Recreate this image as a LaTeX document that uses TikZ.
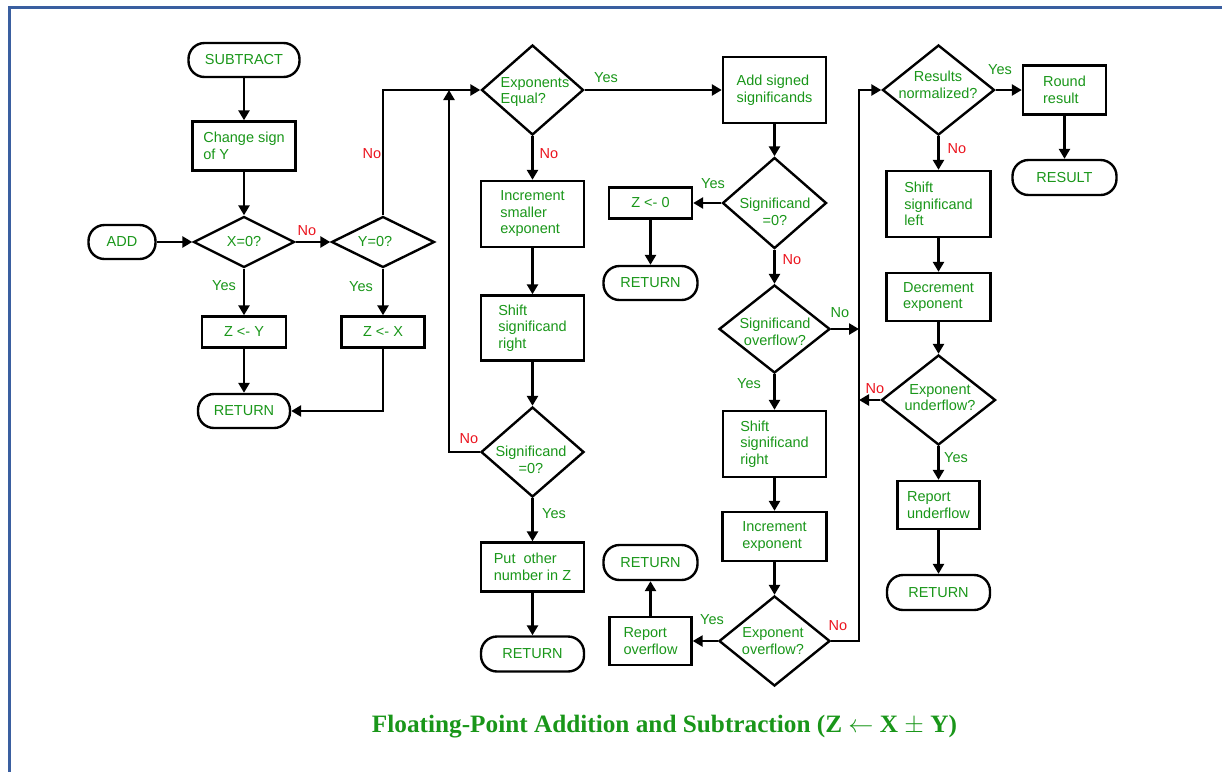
\documentclass[tikz,border=0pt]{standalone}
\usepackage{graphicx}
\usepackage{fontspec}
\setmainfont{Liberation Sans}
\newfontfamily\titlefont{Liberation Serif}
\usetikzlibrary{arrows.meta,shapes.geometric}
\definecolor{tgreen}{RGB}{25,150,25}
\definecolor{tred}{RGB}{235,20,30}
\definecolor{frameblue}{RGB}{58,95,160}
\begin{document}
\begin{tikzpicture}[x=1pt,y=-1pt,
  every node/.style={font=\fontsize{14.5}{16.5}\selectfont, text=tgreen},
  box/.style={draw=black, line width=2.4pt, rectangle, inner sep=0pt, align=left},
  term/.style={draw=black, line width=2.4pt, rectangle, rounded corners=16pt, inner sep=0pt},
  dia/.style={draw=black, line width=2.4pt, diamond, inner sep=0pt},
  dtext/.style={align=center, inner sep=0pt},
  conn/.style={draw=black, line width=2.5pt, -{Triangle[length=10pt,width=11pt]}},
  yes/.style={text=tgreen, inner sep=0pt},
  no/.style={text=tred, inner sep=0pt},
]
\useasboundingbox (0,0) rectangle (1222,772);
\draw[frameblue, line width=3pt] (1222,7.5) -- (9.5,7.5) -- (9.5,772);

% column 1
\node[term, minimum width=111pt, minimum height=34pt] (sub) at (244,60) {SUBTRACT};
\node[box, minimum width=103pt, minimum height=49pt] (chg) at (244,146) {Change sign\\of Y};
\node[dia, minimum width=101pt, minimum height=51pt] (x0) at (244,242) {};
\node[dtext] (x0t) at (244,242) {X=0?};
\node[term, minimum width=67pt, minimum height=34pt] (add) at (122,242) {ADD};
\node[dia, minimum width=103pt, minimum height=51pt] (y0) at (383,242) {};
\node[dtext] (y0t) at (375,242) {Y=0?};
\node[box, minimum width=84pt, minimum height=31pt] (zy) at (244,332) {Z <- Y};
\node[box, minimum width=83pt, minimum height=31pt] (zx) at (383,332) {Z <- X};
\node[term, minimum width=92pt, minimum height=34pt] (ret1) at (244,411) {RETURN};

% column 2
\node[dia, minimum width=102pt, minimum height=90pt] (expeq) at (532.5,90) {};
\node[dtext, align=left] (expeqt) at (535,92) {Exponents\\Equal?};
\node[box, minimum width=103pt, minimum height=66pt] (incsm) at (532.5,214) {Increment\\smaller\\exponent};
\node[box, minimum width=103pt, minimum height=65pt] (shr1) at (532.5,328) {Shift\\significand\\right};
\node[dia, minimum width=103pt, minimum height=90pt] (sig0a) at (532.5,452) {};
\node[dtext] (sig0at) at (531,460) {Significand\\=0?};
\node[box, minimum width=103pt, minimum height=49pt] (put) at (532.5,567) {Put\ \ other\\number in Z};
\node[term, minimum width=103pt, minimum height=35pt] (ret2) at (532.5,654) {RETURN};

% column 3
\node[box, minimum width=103pt, minimum height=66pt] (addsig) at (774.5,90) {Add signed\\significands};
\node[dia, minimum width=104pt, minimum height=91pt] (sig0b) at (774.5,203) {};
\node[dtext] (sig0bt) at (775,212) {Significand\\=0?};
\node[box, minimum width=83pt, minimum height=31pt] (z0) at (650.5,203) {Z <- 0};
\node[term, minimum width=94pt, minimum height=34pt] (ret3) at (650.5,283) {RETURN};
\node[dia, minimum width=111pt, minimum height=88pt] (sigov) at (774.5,329) {};
\node[dtext] (sigovt) at (775,332) {Significand\\overflow?};
\node[box, minimum width=103pt, minimum height=66pt] (shr2) at (774.5,444) {Shift\\significand\\right};
\node[box, minimum width=104pt, minimum height=49pt] (incexp) at (774.5,536.5) {Increment\\exponent};
\node[dia, minimum width=111pt, minimum height=90pt] (expov) at (774.5,641) {};
\node[dtext] (expovt) at (773,641) {Exponent\\overflow?};
\node[box, minimum width=82pt, minimum height=48pt] (repov) at (650.5,641) {Report\\overflow};
\node[term, minimum width=94pt, minimum height=35pt] (ret4) at (650.5,562.5) {RETURN};

% column 4
\node[dia, minimum width=112pt, minimum height=90pt] (resnorm) at (938.5,90) {};
\node[dtext] (resnormt) at (938,85) {Results\\normalized?};
\node[box, minimum width=83pt, minimum height=49pt] (round) at (1064.5,90) {Round\\result};
\node[term, minimum width=104pt, minimum height=35pt] (result) at (1064.5,177.5) {RESULT};
\node[box, minimum width=104pt, minimum height=66pt] (shl) at (938.5,204) {Shift\\significand\\left};
\node[box, minimum width=104pt, minimum height=48pt] (decexp) at (938.5,297) {Decrement\\exponent};
\node[dia, minimum width=114pt, minimum height=90pt] (expun) at (938.5,400) {};
\node[dtext] (expunt) at (940,397.5) {Exponent\\underflow?};
\node[box, minimum width=82pt, minimum height=48pt] (repun) at (938.5,505) {Report\\underflow};
\node[term, minimum width=103pt, minimum height=35pt] (ret5) at (938.5,592.5) {RETURN};

\coordinate (j1) at (449,90);
\coordinate (j2) at (859,329);
\coordinate (c4) at (859,90);
\coordinate (j3) at (859,400);

% connectors
\draw[conn] (sub) -- (chg);
\draw[conn] (chg) -- (x0);
\draw[conn] (add) -- (x0);
\draw[conn] (x0) -- (y0);
\draw[conn] (x0) -- (zy);
\draw[conn] (y0) -- (zx);
\draw[conn] (zy) -- (ret1);
\draw[conn] (zx.south) |- (ret1.east);
\draw[conn] (y0.north) |- (expeq.west);
\draw[conn] (sig0a.west) -| (j1);
\draw[conn] (expeq) -- (incsm);
\draw[conn] (incsm) -- (shr1);
\draw[conn] (shr1) -- (sig0a);
\draw[conn] (sig0a) -- (put);
\draw[conn] (put) -- (ret2);
\draw[conn] (expeq) -- (addsig);
\draw[conn] (addsig) -- (sig0b);
\draw[conn] (sig0b) -- (z0);
\draw[conn] (z0) -- (ret3);
\draw[conn] (sig0b) -- (sigov);
\draw[conn] (sigov.east) -- (j2);
\draw[conn] (sigov) -- (shr2);
\draw[conn] (shr2) -- (incexp);
\draw[conn] (incexp) -- (expov);
\draw[conn] (expov) -- (repov);
\draw[conn] (repov) -- (ret4);
\draw[conn] (expov.east) -| (c4) -- (resnorm.west);
\draw[conn] (resnorm) -- (round);
\draw[conn] (round) -- (result);
\draw[conn] (resnorm) -- (shl);
\draw[conn] (shl) -- (decexp);
\draw[conn] (decexp) -- (expun);
\draw[conn] (expun.west) -- (j3);
\draw[conn] (expun) -- (repun);
\draw[conn] (repun) -- (ret5);

% labels
\node[no] (l1) at (307,231) {No};
\node[yes] (l2) at (224,286) {Yes};
\node[yes] (l3) at (361,287) {Yes};
\node[no] (l4) at (372,154) {No};
\node[no] (l5) at (469,439) {No};
\node[no] (l6) at (549,154) {No};
\node[yes] (l7) at (606,78) {Yes};
\node[yes] (l8) at (713,184) {Yes};
\node[no] (l9) at (792,260) {No};
\node[yes] (l10) at (840,313) {No};
\node[yes] (l11) at (749,384) {Yes};
\node[yes] (l12) at (554,514) {Yes};
\node[yes] (l13) at (712,620) {Yes};
\node[no] (l14) at (838,626) {No};
\node[yes] (l15) at (1000,70) {Yes};
\node[no] (l16) at (957,149) {No};
\node[no] (l17) at (875,389) {No};
\node[yes] (l18) at (956,458) {Yes};

% title
\node[text=tgreen, inner sep=0pt, anchor=base] (title) at (664.5,732)
  {\titlefont\fontsize{25}{30}\selectfont\resizebox{585pt}{\height}{\textbf{Floating-Point Addition and Subtraction (Z $\leftarrow$ X $\pm$ Y)}}};
\end{tikzpicture}
\end{document}
